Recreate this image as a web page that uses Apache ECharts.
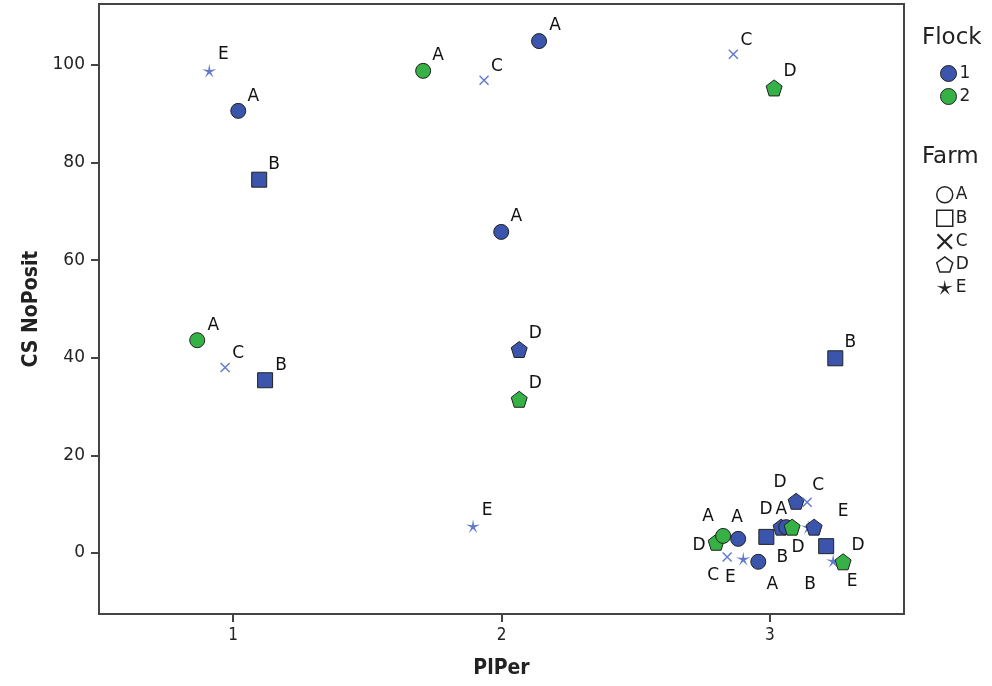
<!DOCTYPE html>
<html>
<head>
<meta charset="utf-8">
<script src="https://cdn.jsdelivr.net/npm/echarts@6/dist/echarts.min.js"></script>
<style>
  html, body { margin: 0; padding: 0; background: #fff; }
  #main { width: 992px; height: 686px; }
</style>
</head>
<body>
<div id="main"></div>
<script>
// values
const plPer = [0.911, 1.019, 1.097, 0.866, 0.970, 1.119, 1.708, 1.935, 2.140, 1.999, 2.066, 2.066, 1.894,
  2.864, 3.016, 3.244,
  2.800, 2.826, 2.882, 2.841, 2.901, 2.957, 2.987, 3.042, 3.061, 3.083, 3.098, 3.139, 3.143, 3.165,
  3.210, 3.236, 3.273];
const csNoPosit = [98.8, 90.6, 76.5, 43.6, 38.0, 35.4, 98.8, 96.9, 104.9, 65.8, 41.7, 31.5, 5.5,
  102.2, 95.3, 39.9,
  2.2, 3.5, 2.9, -0.8, -1.2, -1.8, 3.3, 5.3, 5.3, 5.3, 10.6, 10.4, 5.3, 5.3,
  1.4, -1.6, -1.8];
const flock = [1, 1, 1, 2, 1, 1, 2, 1, 1, 1, 1, 2, 1,
  1, 2, 1,
  2, 2, 1, 1, 1, 1, 1, 1, 1, 2, 1, 1, 1, 1,
  1, 1, 2];
const farm = ['E', 'A', 'B', 'A', 'C', 'B', 'A', 'C', 'A', 'A', 'D', 'D', 'E',
  'C', 'D', 'B',
  'D', 'A', 'A', 'C', 'E', 'A', 'B', 'D', 'A', 'D', 'D', 'C', 'E', 'D',
  'B', 'E', 'D'];
const flockNames = ['1', '2'];
const farmNames = ['A', 'B', 'C', 'D', 'E'];
const yTicks = [0, 20, 40, 60, 80, 100];
const xTicks = [1, 2, 3];

// where each point label sits (px from the marker centre), null = no label
const labelOffsets = [[14, -16], [15, -14], [15, -15], [16, -15], [13, -14], [16, -15], [15, -15], [13, -14],
  [16, -16], [15, -15], [16, -16], [16, -16], [14, -16],
  [13, -14], [16, -16], [15, -16],
  [-17, 3], [-15, -19], [-1, -21], [-14, 19], [-13, 19], [14, 23], [16, 21], [-15, -18], [-5, -18],
  [6, 20], [-16, -19], [11, -17], [35, -16], null,
  [-16, 38], [19, 21], [15, -16]];

const pentagon = 'path://M0,-10 L9.51,-3.09 L5.88,8.09 L-5.88,8.09 L-9.51,-3.09 Z';
const cross = 'path://M-10,-8 L-8,-10 L10,8 L8,10 Z M8,-10 L10,-8 L-8,10 L-10,8 Z';
const star = 'path://M0,-10 L1.47,-2.02 L9.51,-3.09 L2.38,0.77 L5.88,8.09 L0,2.5 L-5.88,8.09 L-2.38,0.77 L-9.51,-3.09 L-1.47,-2.02 Z';

const farmSymbol = { A: 'circle', B: 'rect', C: cross, D: pentagon, E: star };
const farmSize = { A: 15, B: 15, C: 10, D: 16, E: 14 };
const flockColor = { 1: '#3a55ab', 2: '#35b145' };
const lineColor = '#6278cf';
const font = 'DejaVu Sans';

function buildData(f) {
  let out = [];
  for (let i = 0; i < plPer.length; i++) {
    if (flock[i] !== f) continue;
    let k = farm[i];
    let thin = (k === 'C' || k === 'E');
    let off = labelOffsets[i];
    out.push({
      value: [plPer[i], csNoPosit[i]],
      symbol: farmSymbol[k],
      symbolSize: farmSize[k],
      itemStyle: thin
        ? { color: lineColor, borderWidth: 0, opacity: 1 }
        : { color: flockColor[f], borderColor: '#222', borderWidth: 1, opacity: 1 },
      label: off
        ? { show: true, formatter: k, position: 'inside', offset: off }
        : { show: false }
    });
  }
  return out;
}

let series = flockNames.map(function (n) {
  return {
    name: n,
    type: 'scatter',
    data: buildData(Number(n)),
    itemStyle: { opacity: 1 },
    label: {
      color: '#111',
      opacity: 1,
      fontSize: 17,
      fontFamily: font
    },
    emphasis: { disabled: true }
  };
});
// empty series so the Farm legend has its own entries
farmNames.forEach(function (n) {
  series.push({ name: n, type: 'scatter', data: [] });
});

let chartDom = document.getElementById('main');
let myChart = echarts.init(chartDom);
let option;

option = {
  animation: false,
  grid: {
    left: 99, right: 88, top: 4, bottom: 72,
    show: true,
    borderColor: '#444',
    borderWidth: 2
  },
  xAxis: {
    type: 'value',
    min: 0.5,
    max: 3.5,
    name: 'PlPer',
    nameLocation: 'middle',
    nameGap: 44,
    nameTextStyle: { fontFamily: 'DejaVu Sans Condensed', fontWeight: 'bold', fontSize: 21, color: '#222' },
    axisLine: { show: true, onZero: false, lineStyle: { color: '#444', width: 2 } },
    axisTick: { show: true, customValues: xTicks, length: 8, lineStyle: { color: '#444', width: 2 } },
    axisLabel: { customValues: xTicks, color: '#222', fontSize: 17, fontFamily: 'DejaVu Sans Condensed', margin: 13 },
    splitLine: { show: false }
  },
  yAxis: {
    type: 'value',
    min: -12.5,
    max: 112.5,
    name: 'CS NoPosit',
    nameLocation: 'middle',
    nameGap: 57,
    nameTextStyle: { fontFamily: 'DejaVu Sans Condensed', fontWeight: 'bold', fontSize: 21, color: '#222' },
    axisLine: { show: true, onZero: false, lineStyle: { color: '#444', width: 2 } },
    axisTick: { show: true, customValues: yTicks, length: 8, lineStyle: { color: '#444', width: 2 } },
    axisLabel: { customValues: yTicks, color: '#222', fontSize: 17, fontFamily: font, margin: 14 },
    splitLine: { show: false }
  },
  legend: [
    {
      orient: 'vertical',
      left: 940,
      top: 65,
      padding: 0,
      itemGap: 6,
      itemWidth: 16,
      itemHeight: 16,
      selectedMode: false,
      textStyle: { fontSize: 17, fontFamily: font, color: '#222', padding: [0, 0, 0, -2] },
      data: flockNames.map(function (n) {
        return { name: n, icon: 'circle', itemStyle: { color: flockColor[n], borderColor: '#222', borderWidth: 1, opacity: 1 } };
      })
    },
    {
      orient: 'vertical',
      left: 936,
      top: 186,
      padding: 0,
      itemGap: 6,
      itemWidth: 16,
      itemHeight: 16,
      selectedMode: false,
      textStyle: { fontSize: 17, fontFamily: font, color: '#222', padding: [0, 0, 0, -2] },
      data: farmNames.map(function (n) {
        let thin = (n === 'C' || n === 'E');
        return {
          name: n,
          icon: farmSymbol[n],
          itemStyle: thin
            ? { color: '#222', borderWidth: 0, opacity: 1 }
            : { color: '#fff', borderColor: '#222', borderWidth: 1.5, opacity: 1 }
        };
      })
    }
  ],
  graphic: [
    { type: 'text', left: 922, top: 27, style: { text: 'Flock', fontSize: 23, fontFamily: font, fill: '#222' } },
    { type: 'text', left: 922, top: 146, style: { text: 'Farm', fontSize: 23, fontFamily: font, fill: '#222' } }
  ],
  series: series
};

option && myChart.setOption(option);
</script>
</body>
</html>
